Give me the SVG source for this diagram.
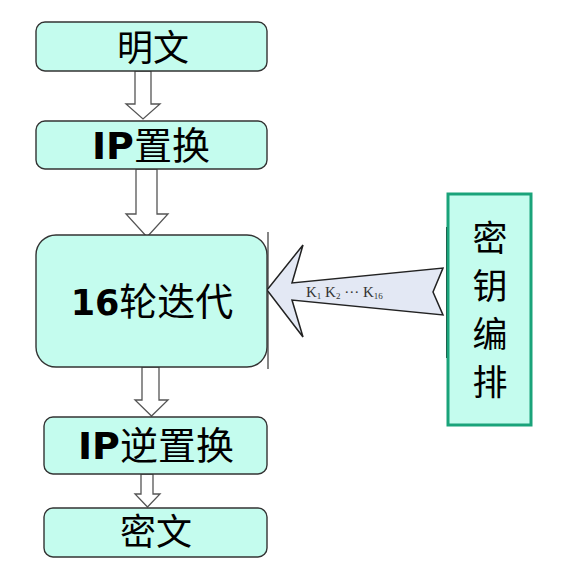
<svg xmlns="http://www.w3.org/2000/svg" width="571" height="569" viewBox="0 0 571 569">
<style>
.box{fill:#c4fcee;stroke:#333;stroke-width:1.4}
.flow{fill:#fff;stroke:#555;stroke-width:1.3}
.zh{font-family:"Noto Sans CJK SC","Noto Sans CJK JP",sans-serif;fill:#000}
.lat{font-family:"DejaVu Sans",Verdana,sans-serif;font-weight:bold}
.k{font-family:"Liberation Serif","Times New Roman",serif;fill:#333}
.kz{font-family:"Noto Sans CJK SC","Noto Sans CJK JP",sans-serif;fill:#000;font-size:35px;text-anchor:middle}
</style>
<rect width="571" height="569" fill="#fff"/>
<g id="connectors">
<polygon class="flow" points="135,71 151,71 151,104 160,104 143,119 126,104 135,104"/>
<polygon class="flow" points="136,169 157,169 157,214 168,214 147,237 126,214 136,214"/>
<polygon class="flow" points="142,367 159,367 159,400 168,400 151.5,416 135,400 142,400"/>
<polygon class="flow" points="141,474 153,474 153,494 160,494 147.5,507 135,494 141,494"/>
<line x1="268" y1="232" x2="268" y2="369" stroke="#444" stroke-width="1.3"/>
<line x1="447" y1="227" x2="447" y2="358" stroke="#222" stroke-width="2"/>
<polygon points="267,290 303,245 292,283 443,268 433,292 443,315 292,300 303,337" fill="#e3e8f4" stroke="#222" stroke-width="1.5" stroke-linejoin="miter"/>
<text class="k" x="306" y="297" font-size="15">K<tspan font-size="9" dy="2">1</tspan><tspan dy="-2"> K</tspan><tspan font-size="9" dy="2">2</tspan><tspan dy="-2"> ··· K</tspan><tspan font-size="9" dy="2">16</tspan></text>
</g>
<g id="n-plain">
<rect class="box" x="36" y="22" width="231" height="49" rx="9"/>
<text class="zh" x="153" y="61" font-size="36" text-anchor="middle">明文</text>
</g>
<g id="n-ip">
<rect class="box" x="36" y="121" width="231" height="48" rx="9"/>
<text class="zh" x="151" y="159" font-size="38" text-anchor="middle"><tspan class="lat">IP</tspan>置换</text>
</g>
<g id="n-rounds">
<rect class="box" x="36" y="235" width="231" height="132" rx="20"/>
<text class="zh" x="152" y="315" font-size="38" text-anchor="middle"><tspan class="lat" font-size="35">16</tspan>轮迭代</text>
</g>
<g id="n-ipinv">
<rect class="box" x="44" y="417" width="223" height="57" rx="9"/>
<text class="zh" x="156" y="459" font-size="38" text-anchor="middle"><tspan class="lat">IP</tspan>逆置换</text>
</g>
<g id="n-cipher">
<rect class="box" x="44" y="508" width="223" height="49" rx="9"/>
<text class="zh" x="156" y="545" font-size="36" text-anchor="middle">密文</text>
</g>
<g id="n-key">
<rect x="448" y="194" width="83" height="231" fill="#c4fcee" stroke="#1aa37a" stroke-width="3"/>
<text class="kz" x="490" y="251">密</text>
<text class="kz" x="490" y="299">钥</text>
<text class="kz" x="490" y="347">编</text>
<text class="kz" x="490" y="395">排</text>
</g>
</svg>
